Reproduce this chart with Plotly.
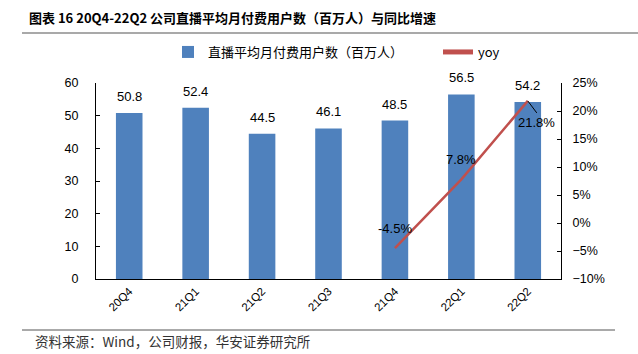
import plotly.graph_objects as go

categories = ["20Q4", "21Q1", "21Q2", "21Q3", "21Q4", "22Q1", "22Q2"]
users = [50.8, 52.4, 44.5, 46.1, 48.5, 56.5, 54.2]
yoy = [None, None, None, None, -0.045, 0.078, 0.218]
bar_name = "直播平均月付费用户数（百万人）"
line_name = "yoy"

W, H = 638, 354
L, R, T, B = 96, 77, 83, 75
pw, ph = W - L - R, H - T - B

def px2x(px):
    return (px - L) / pw

def px2y(py):
    return (H - B - py) / ph

fnt = "Liberation Sans, Arial, sans-serif"
cjk = "Noto Sans CJK SC, sans-serif"

fig = go.Figure()
fig.add_trace(go.Bar(
    x=categories, y=users, name=bar_name,
    marker=dict(color="#4F81BD", line=dict(width=0)),
    width=0.4, legend="legend",
))
fig.add_trace(go.Scatter(
    x=categories, y=yoy, name=line_name, yaxis="y2", mode="lines",
    line=dict(color="#C0504D", width=2.5), connectgaps=False, legend="legend2",
))

# bar data labels
for c, v in zip(categories, users):
    fig.add_annotation(x=c, y=v, xref="x", yref="y", text=f"{v:.1f}",
                       showarrow=False, yanchor="bottom", yshift=7,
                       font=dict(family=fnt, size=13, color="#000"))

# line data labels
for c, v in zip(categories, yoy):
    if v is None:
        continue
    if c == "22Q2":
        fig.add_annotation(x=c, y=v, xref="x", yref="y2", text=f"{v*100:.1f}%",
                           showarrow=True, arrowhead=0, arrowwidth=1, arrowcolor="#000",
                           ax=9, ay=12, xanchor="center", yanchor="top",
                           font=dict(family=fnt, size=13, color="#000"))
    else:
        fig.add_annotation(x=c, y=v, xref="x", yref="y2", text=f"{v*100:.1f}%",
                           showarrow=False, yshift=20,
                           font=dict(family=fnt, size=13, color="#000"))

# title
fig.add_annotation(x=px2x(27), y=px2y(18), xref="paper", yref="paper",
                   xanchor="left", yanchor="middle", showarrow=False,
                   text="<b>图表 16 20Q4-22Q2 公司直播平均月付费用户数（百万人）与同比增速</b>",
                   font=dict(family=cjk, size=13, color="#000"))
fig.add_shape(type="line", xref="paper", yref="paper",
              x0=px2x(22), x1=px2x(638), y0=px2y(33), y1=px2y(33),
              line=dict(color="#8c8c8c", width=1.5))
# source
fig.add_shape(type="line", xref="paper", yref="paper",
              x0=px2x(22), x1=px2x(615), y0=px2y(330), y1=px2y(330),
              line=dict(color="#555", width=1))
fig.add_annotation(x=px2x(33), y=px2y(341), xref="paper", yref="paper",
                   xanchor="left", yanchor="middle", showarrow=False,
                   text="资料来源：Wind，公司财报，华安证券研究所",
                   font=dict(family=cjk, size=13.5, color="#333"))

leg_common = dict(orientation="h", yanchor="middle", xanchor="left",
                  font=dict(family=cjk, size=13, color="#000"), itemwidth=30,
                  bgcolor="rgba(0,0,0,0)", itemsizing="constant")

fig.update_layout(
    width=W, height=H, margin=dict(l=L, r=R, t=T, b=B),
    paper_bgcolor="white", plot_bgcolor="white",
    showlegend=True,
    legend=dict(x=px2x(168), y=px2y(52), **leg_common),
    legend2=dict(x=px2x(438), y=px2y(52), **leg_common),
    xaxis=dict(type="category", tickangle=-45, showline=True, linecolor="#000", linewidth=1,
               ticks="", tickfont=dict(family=fnt, size=11.5, color="#000"), showgrid=False),
    yaxis=dict(range=[0, 60], dtick=10, showline=True, linecolor="#000", linewidth=1,
               ticks="inside", ticklen=4, tickcolor="#000", showgrid=False, zeroline=False,
               ticklabelstandoff=14,
               tickfont=dict(family=fnt, size=12.5, color="#000")),
    yaxis2=dict(range=[-0.10, 0.25], dtick=0.05, tickformat=".0%", overlaying="y", side="right",
                showline=True, linecolor="#000", linewidth=1, ticks="inside", ticklen=4,
                tickcolor="#000", showgrid=False, zeroline=False, ticklabelstandoff=8,
                tickfont=dict(family=fnt, size=12.5, color="#000")),
    font=dict(family=fnt),
)

fig.write_html("out.html")
